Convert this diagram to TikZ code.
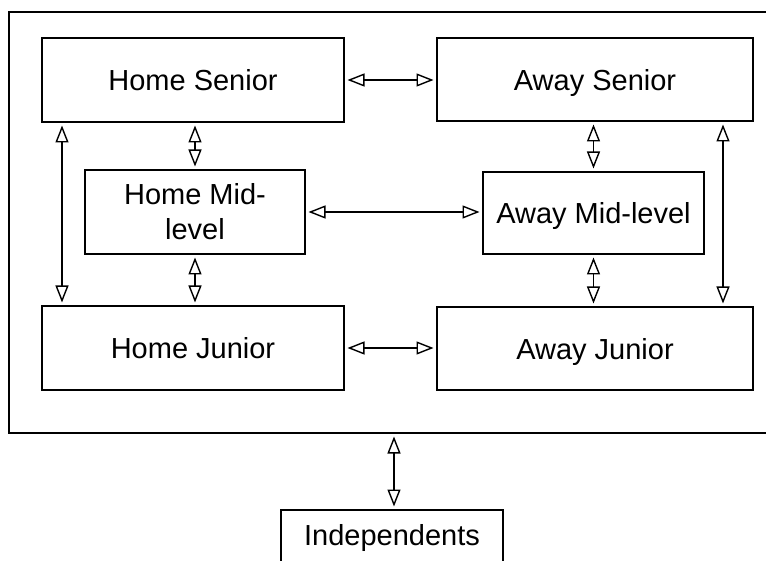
\documentclass[tikz,border=0pt]{standalone}
\usepackage{fontspec}
\setmainfont{Liberation Sans}
\usetikzlibrary{arrows.meta}
\begin{document}
\begin{tikzpicture}[x=1pt,y=-1pt,
  box/.style={draw,line width=1.5pt,inner sep=0pt,outer sep=0pt,
    font=\fontsize{29}{35}\selectfont,align=center},
  oneline/.style={text height=29pt,text depth=7pt},
  tip/.tip={Triangle[open,length=17pt,width=13pt,line width=1.4pt]},
  link/.style={line width=1.4pt,tip-tip,shorten <=3.5pt,shorten >=3.5pt}]
  \clip (0,0) rectangle (766,561);

  % enclosing frame of the organisation
  \node[box,minimum width=781pt,minimum height=421pt] (frame) at (399.5,222.5) {};

  % seniority levels, home and away
  \node[box,oneline,minimum width=302pt,minimum height=84pt] (hs) at (193,80) {Home Senior};
  \node[box,oneline,minimum width=316pt,minimum height=83pt] (as) at (595,79.5) {Away Senior};
  \node[box,minimum width=220pt,minimum height=84pt] (hm) at (195,212) {Home Mid-\\level};
  \node[box,oneline,minimum width=221pt,minimum height=82pt] (am) at (593.5,213) {Away Mid-level};
  \node[box,oneline,minimum width=302pt,minimum height=84pt] (hj) at (193,348) {Home Junior};
  \node[box,oneline,minimum width=316pt,minimum height=83pt] (aj) at (595,348.5) {Away Junior};
  \node[box,minimum width=222pt,minimum height=56pt] (ind) at (392,538) {Independents};

  % horizontal links
  \draw[link] (hs.east) -- (hs.east -| as.west);
  \draw[link] (hm.east) -- (hm.east -| am.west);
  \draw[link] (hj.east) -- (hj.east -| aj.west);

  % vertical links
  \draw[link] (hs.south -| hm.north) -- (hm.north);
  \draw[link] (hm.south) -- (hm.south |- hj.north);
  \draw[link] (as.south -| am.north) -- (am.north);
  \draw[link] (am.south) -- (am.south |- aj.north);
  \draw[link] ([xshift=20pt]hs.south west) -- ([xshift=20pt]hj.north west);
  \draw[link] ([xshift=-30pt]as.south east) -- ([xshift=-30pt]aj.north east);
  \draw[link] ([xshift=2pt]ind.north |- frame.south) -- ([xshift=2pt]ind.north);
\end{tikzpicture}
\end{document}
